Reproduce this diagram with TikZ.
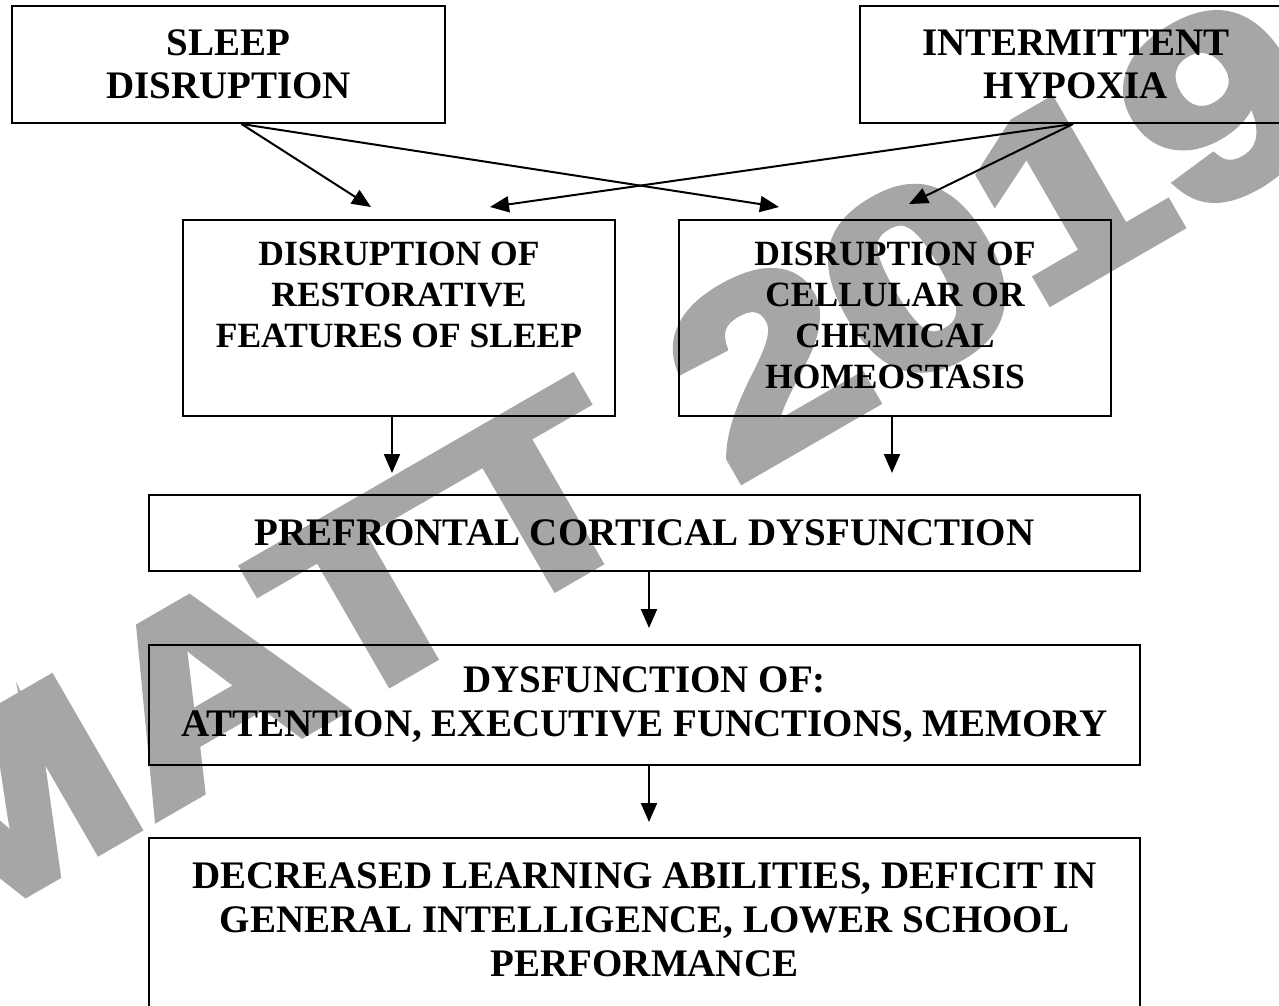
\documentclass[tikz,border=0pt]{standalone}
\usepackage{fontspec}
\setmainfont{Liberation Serif}
\newfontfamily\wmfont[BoldFeatures={FakeBold=4}]{Liberation Sans}
\usetikzlibrary{arrows.meta}
\definecolor{wmgray}{RGB}{166,166,166}
\begin{document}
\begin{tikzpicture}[x=1pt,y=-1pt,
  box/.style={draw, line width=2pt, inner sep=0pt, align=center,
    font=\fontsize{39}{43}\selectfont\bfseries},
  tallbox/.style={box, font=\fontsize{35.5}{41}\selectfont\bfseries},
  lowbox/.style={box, font=\fontsize{39}{44}\selectfont\bfseries},
  arr/.style={line width=2pt, -{Triangle[length=19pt,width=16pt]}}]
\useasboundingbox (0,0) rectangle (1279,1006);
% watermark
\node[wmgray, rotate=30, anchor=base west, inner sep=0pt,
  font=\wmfont\bfseries\fontsize{250}{250}\selectfont] (wm) at (-72,949)
  {\scalebox{1.25}[1]{MATT 2019}};
% boxes
\node[box, minimum width=433pt, minimum height=117pt] (sleep) at (228.5,64.5) {SLEEP\\DISRUPTION};
\node[box, minimum width=432pt, minimum height=117pt] (hyp) at (1076,64.5) {INTERMITTENT\\HYPOXIA};
\node[tallbox, minimum width=432pt, minimum height=196pt] (rest) at (399,318) {DISRUPTION OF\\RESTORATIVE\\FEATURES OF SLEEP\\\rule[-6.5pt]{0pt}{6.5pt}};
\node[tallbox, minimum width=432pt, minimum height=196pt] (cell) at (895,318) {DISRUPTION OF\\CELLULAR OR\\CHEMICAL\\HOMEOSTASIS\rule[-6.5pt]{0pt}{6.5pt}};
\node[box, minimum width=991pt, minimum height=76pt] (pre) at (644.5,533) {PREFRONTAL CORTICAL DYSFUNCTION};
\node[lowbox, minimum width=991pt, minimum height=120pt] (dys) at (644.5,705) {DYSFUNCTION OF:\\ATTENTION, EXECUTIVE FUNCTIONS, MEMORY};
\node[lowbox, minimum width=991pt, minimum height=207pt] (dec) at (644.5,941.5) {DECREASED LEARNING ABILITIES, DEFICIT IN\\GENERAL INTELLIGENCE, LOWER SCHOOL\\PERFORMANCE\\\mbox{}};
% arrow tips
\coordinate (a1) at (371,207);
\coordinate (a2) at (779,207);
\coordinate (a3) at (490,207);
\coordinate (a4) at (909,204);
\coordinate (t1) at (392,473);
\coordinate (t2) at (892,473);
\coordinate (t3) at (649,628);
\coordinate (t4) at (649,822);
% connectors
\draw[arr] ([xshift=13pt]sleep.south) -- (a1);
\draw[arr] ([xshift=13pt]sleep.south) -- (a2);
\draw[arr] ([xshift=-3pt]hyp.south) -- (a3);
\draw[arr] ([xshift=-3pt]hyp.south) -- (a4);
\draw[arr] (rest.south -| t1) -- (t1);
\draw[arr] (cell.south -| t2) -- (t2);
\draw[arr] (pre.south -| t3) -- (t3);
\draw[arr] (dys.south -| t4) -- (t4);
\end{tikzpicture}
\end{document}
